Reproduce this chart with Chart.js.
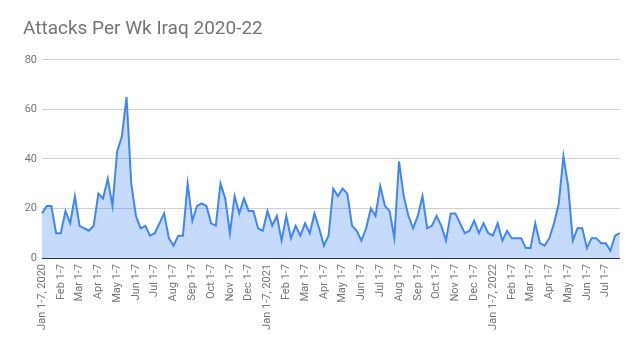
<!DOCTYPE html>
<html>
<head>
<meta charset="utf-8">
<script src="https://cdn.jsdelivr.net/npm/chart.js@4.4.1/dist/chart.umd.min.js"></script>
<style>
  html, body { margin: 0; padding: 0; background: #fff; }
  #wrap { width: 639px; height: 352px; }
</style>
</head>
<body>
<div id="wrap"><canvas id="chart" width="639" height="352"></canvas></div>
<script>
'use strict';

// weekly attack counts, 4 "weeks" per month (1-7, 8-14, 15-21, 22-end)
let attacks2020 = [18, 21, 21, 10, 10, 19, 14, 25, 13, 12, 11, 13, 26, 24, 32, 21,
  43, 49, 65, 30, 17, 12, 13, 9, 10, 14, 18, 8, 5, 9, 9, 30,
  15, 21, 22, 21, 14, 13, 30, 24, 10, 25, 18, 24, 19, 19, 12, 11];
let attacks2021 = [19, 13, 17, 7, 17, 8, 13, 9, 14, 10, 18, 12, 5, 9, 28, 25,
  28, 26, 13, 11, 7, 12, 20, 17, 29, 21, 19, 8, 39, 25, 17, 12,
  17, 25, 12, 13, 17, 13, 7, 18, 18, 14, 10, 11, 15, 10, 14, 10];
let attacks2022 = [9, 14, 7, 11, 8, 8, 8, 4, 4, 14, 6, 5, 8, 14, 22, 41,
  29, 7, 12, 12, 4, 8, 8, 6, 6, 3, 9, 10];

let years = [2020, 2021, 2022];
let months = ['Jan', 'Feb', 'Mar', 'Apr', 'May', 'Jun', 'Jul', 'Aug', 'Sep', 'Oct', 'Nov', 'Dec'];
let weekStarts = [1, 8, 15, 22];
let yTicks = [0, 20, 40, 60, 80];

let values = attacks2020.concat(attacks2021, attacks2022);

// build the week labels: "Jan 1-7, 2020", "Jan 8-14", ...
let weekLabels = [];
years.forEach(year => {
  months.forEach((m, mi) => {
    let lastDay = new Date(year, mi + 1, 0).getDate();
    weekStarts.forEach((d, wi) => {
      if (weekLabels.length >= values.length) return;
      let end = wi === weekStarts.length - 1 ? lastDay : d + 6;
      let label = m + ' ' + d + '-' + end;
      if (mi === 0 && wi === 0) label += ', ' + year;
      weekLabels.push(label);
    });
  });
});

let canvasElem = document.getElementById('chart');
let grey = '#757575';

let config = {
  type: 'line',
  data: {
    labels: weekLabels,
    datasets: [{
      label: 'Attacks',
      data: values,
      borderColor: '#4285f4',
      backgroundColor: 'rgba(66, 133, 244, 0.3)',
      borderWidth: 2,
      fill: 'origin',
      pointRadius: 0,
      tension: 0
    }]
  },
  options: {
    responsive: false,
    animation: false,
    layout: { padding: { left: 23, right: 17, top: 0, bottom: 0 } },
    plugins: {
      legend: { display: false },
      tooltip: { enabled: false },
      title: {
        display: true,
        text: 'Attacks Per Wk Iraq 2020-22',
        align: 'start',
        color: grey,
        font: { family: 'Roboto', size: 19, weight: 'normal' },
        padding: { top: 18, bottom: 19 }
      }
    },
    scales: {
      x: {
        z: 1,
        grid: { display: false, drawTicks: false },
        border: { display: true, color: '#333', width: 1 },
        ticks: {
          autoSkip: false,
          minRotation: 90,
          maxRotation: 90,
          padding: 6,
          color: grey,
          font: { family: 'Roboto', size: 11 },
          callback: function (val, index) {
            return index % 4 === 0 ? weekLabels[index] : '';
          }
        },
        afterFit: function (scale) { scale.height = 94; }
      },
      y: {
        min: 0,
        max: 80,
        afterBuildTicks: function (scale) {
          scale.ticks = yTicks.map(v => ({ value: v }));
        },
        grid: { color: '#d0d0d0', drawTicks: false },
        border: { display: false },
        ticks: {
          padding: 5,
          color: grey,
          font: { family: 'Roboto', size: 11 }
        },
        afterFit: function (scale) { scale.width = 19; }
      }
    }
  }
};

let myChart = new Chart(canvasElem, config);
</script>
</body>
</html>
